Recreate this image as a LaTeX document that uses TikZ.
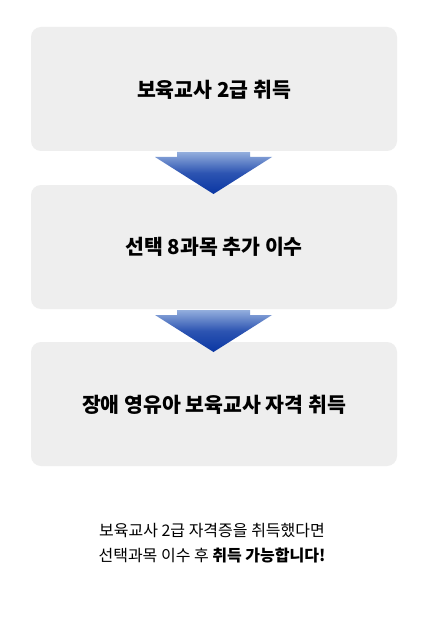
\documentclass[tikz,border=0pt]{standalone}
\usepackage{fontspec}
\setmainfont{Noto Sans CJK KR}
\begin{document}
\begin{tikzpicture}[x=1pt,y=-1pt,
  stagebox/.style={fill=boxgray,rounded corners=10pt},
  stagetext/.style={font=\fontsize{20.5}{24}\selectfont\bfseries},
  note/.style={font=\fontsize{16}{25}\selectfont, align=center}]
\definecolor{boxgray}{HTML}{EEEEEE}
\definecolor{arrtop}{HTML}{93AEDD}
\definecolor{arrbot}{HTML}{0A36A3}
\useasboundingbox[fill=white] (0,0) rectangle (426,631);
\fill[stagebox] (31,27) rectangle (397,151);
\fill[stagebox] (31,185) rectangle (397,309);
\fill[stagebox] (31,342) rectangle (397,466);
\node[stagetext] (s1) at (214,90) {보육교사 2급 취득};
\node[stagetext] (s2) at (214,247) {선택 8과목 추가 이수};
\node[stagetext] (s3) at (214,405) {장애 영유아 보육교사 자격 취득};
\foreach \y in {152,310}{
  \shade[top color=arrtop,bottom color=arrbot,middle color=arrbot!75!arrtop]
    (177,\y) -- (250,\y) -- (250,\y+5) -- (272,\y+5) -- (213.5,\y+42) -- (155,\y+5) -- (177,\y+5) -- cycle;
}
\node[note] (n) at (212,543) {보육교사 2급 자격증을 취득했다면\\선택과목 이수 후 \textbf{취득 가능합니다!}};
\end{tikzpicture}
\end{document}
